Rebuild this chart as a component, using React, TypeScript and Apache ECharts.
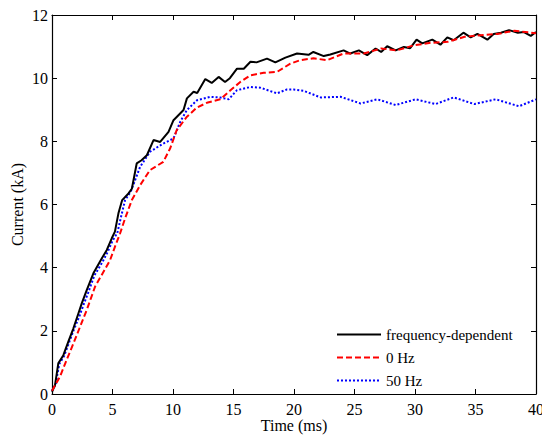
import React, { useEffect, useRef } from "react";
import * as echarts from "echarts";

// Time samples (ms) and current (kA) for each grounding model
const freqDepTime = [0, 0.25, 0.52, 0.94, 1.35, 1.77, 2.18, 2.46, 2.87, 3.42, 4.11, 4.53, 4.94, 5.2, 5.49, 5.8, 6.32, 6.6, 7.0, 7.4, 7.84, 8.39, 8.94, 9.63, 10.04, 10.87, 11.15, 11.7, 12.0, 12.67, 13.2, 13.77, 14.3, 14.7, 15.29, 15.85, 16.4, 16.9, 17.77, 18.46, 19.29, 20.25, 21.2, 21.6, 22.46, 23.0, 24.1, 24.65, 25.36, 26.05, 26.74, 27.2, 27.7, 28.4, 29.08, 29.6, 30.13, 30.6, 31.43, 32.1, 32.67, 33.2, 34.0, 34.6, 35.16, 35.98, 36.5, 37.1, 37.77, 38.5, 39.0, 39.57, 40];
const freqDepCurrent = [0.07, 0.28, 0.97, 1.23, 1.66, 2.08, 2.55, 2.87, 3.29, 3.82, 4.29, 4.56, 4.93, 5.14, 5.72, 6.14, 6.35, 6.5, 7.3, 7.4, 7.56, 8.04, 7.98, 8.3, 8.67, 8.99, 9.36, 9.57, 9.53, 9.97, 9.85, 10.04, 9.88, 10.0, 10.3, 10.3, 10.52, 10.5, 10.62, 10.5, 10.65, 10.78, 10.74, 10.83, 10.7, 10.75, 10.88, 10.78, 10.88, 10.73, 10.94, 10.83, 11.01, 10.88, 10.99, 10.95, 11.22, 11.1, 11.22, 11.06, 11.29, 11.2, 11.44, 11.29, 11.4, 11.22, 11.4, 11.44, 11.52, 11.44, 11.46, 11.34, 11.46];

const dcTime = [0, 0.66, 1.21, 1.77, 2.32, 2.87, 3.56, 4.11, 4.8, 5.2, 5.63, 6.04, 6.6, 7.28, 8.1, 9.2, 9.77, 10.3, 11.15, 11.98, 12.8, 13.9, 14.7, 15.56, 16.4, 17.5, 18.6, 19.7, 20.5, 21.6, 22.74, 24.1, 25.77, 27.2, 28.5, 29.9, 31.3, 32.7, 34.1, 35.4, 36.8, 38.2, 39.6, 40];
const dcCurrent = [0.1, 0.55, 1.08, 1.6, 2.13, 2.66, 3.4, 3.77, 4.24, 4.66, 5.09, 5.56, 6.14, 6.61, 7.09, 7.35, 7.78, 8.35, 8.78, 9.07, 9.22, 9.33, 9.6, 9.88, 10.09, 10.17, 10.2, 10.46, 10.57, 10.63, 10.57, 10.78, 10.78, 10.94, 10.88, 11.04, 11.12, 11.15, 11.31, 11.36, 11.4, 11.5, 11.44, 11.42];

const hz50Time = [0, 0.3, 0.6, 1.0, 1.4, 1.8, 2.3, 2.6, 3.0, 3.5, 4.2, 4.6, 5.0, 5.4, 5.7, 6.04, 6.5, 7.28, 8.1, 9.2, 10.04, 10.6, 11.15, 11.98, 13.08, 13.9, 14.6, 15.29, 16.4, 17.2, 18.6, 19.4, 19.97, 20.8, 22.2, 23.84, 25.5, 26.9, 28.4, 30.05, 31.7, 33.2, 34.9, 36.67, 38.6, 40];
const hz50Current = [0.1, 0.3, 0.95, 1.2, 1.62, 2.03, 2.5, 2.82, 3.22, 3.75, 4.2, 4.5, 4.85, 5.1, 5.6, 6.14, 6.4, 7.19, 7.67, 7.93, 8.09, 8.62, 8.99, 9.3, 9.41, 9.39, 9.33, 9.62, 9.72, 9.7, 9.52, 9.64, 9.64, 9.6, 9.39, 9.41, 9.2, 9.33, 9.15, 9.33, 9.18, 9.39, 9.18, 9.33, 9.11, 9.33];

const seriesNames = ["frequency-dependent", "0 Hz", "50 Hz"];

const zip = (xs: number[], ys: number[]) => xs.map((x, i) => [x, ys[i]]);

const FONT = "Liberation Serif";
const FONT_SIZE = 16;

export default function App() {
  const ref = useRef<HTMLDivElement>(null);

  useEffect(() => {
    document.body.style.margin = "0";
    if (!ref.current) return;
    const chart = echarts.init(ref.current, undefined, { renderer: "svg" });

    const axisCommon = {
      type: "value" as const,
      axisLine: { show: true, onZero: false, lineStyle: { color: "#000", width: 1.2 } },
      axisTick: { show: true, inside: true, length: 5, lineStyle: { color: "#000" } },
      splitLine: { show: false },
    };

    chart.setOption({
      animation: false,
      backgroundColor: "#fff",
      textStyle: { fontFamily: FONT },
      grid: {
        left: 52,
        right: 6,
        top: 15,
        bottom: 41,
        containLabel: false,
        outerBoundsMode: "none",
      },
      legend: {
        orient: "vertical",
        left: 331,
        top: 322,
        itemWidth: 44,
        itemHeight: 10,
        itemGap: 8,
        itemStyle: { opacity: 0 },
        data: seriesNames,
        textStyle: { fontFamily: FONT, fontSize: 15, color: "#000" },
      },
      xAxis: [
        {
          ...axisCommon,
          position: "bottom",
          min: 0,
          max: 40,
          interval: 5,
          name: "Time (ms)",
          nameLocation: "middle",
          nameGap: 23,
          nameMoveOverlap: false,
          nameTextStyle: { fontFamily: FONT, fontSize: FONT_SIZE, color: "#000", lineHeight: 16 },
          axisLabel: { fontFamily: FONT, fontSize: FONT_SIZE, color: "#000", margin: 7 },
        },
        {
          ...axisCommon,
          position: "top",
          min: 0,
          max: 40,
          interval: 5,
          axisLabel: { show: false },
        },
      ],
      yAxis: [
        {
          ...axisCommon,
          position: "left",
          min: 0,
          max: 12,
          interval: 2,
          name: "Current (kA)",
          nameLocation: "middle",
          nameGap: 27,
          nameMoveOverlap: false,
          nameRotate: 90,
          nameTextStyle: { fontFamily: FONT, fontSize: FONT_SIZE, color: "#000" },
          axisLabel: { fontFamily: FONT, fontSize: FONT_SIZE, color: "#000", margin: 4 },
        },
        {
          ...axisCommon,
          position: "right",
          min: 0,
          max: 12,
          interval: 2,
          axisLabel: { show: false },
        },
      ],
      series: [
        {
          name: seriesNames[0],
          type: "line",
          data: zip(freqDepTime, freqDepCurrent),
          symbol: "none",
          lineStyle: { color: "#000", width: 2, type: "solid" },
          itemStyle: { color: "#000" },
          z: 3,
        },
        {
          name: seriesNames[1],
          type: "line",
          data: zip(dcTime, dcCurrent),
          symbol: "none",
          lineStyle: { color: "#ff0000", width: 2, type: [6, 3] },
          itemStyle: { color: "#ff0000" },
          z: 4,
        },
        {
          name: seriesNames[2],
          type: "line",
          data: zip(hz50Time, hz50Current),
          symbol: "none",
          lineStyle: { color: "#0000ff", width: 2, type: [2, 2] },
          itemStyle: { color: "#0000ff" },
          z: 2,
        },
      ],
    });

    return () => chart.dispose();
  }, []);

  return <div ref={ref} style={{ width: 542, height: 435 }} />;
}
